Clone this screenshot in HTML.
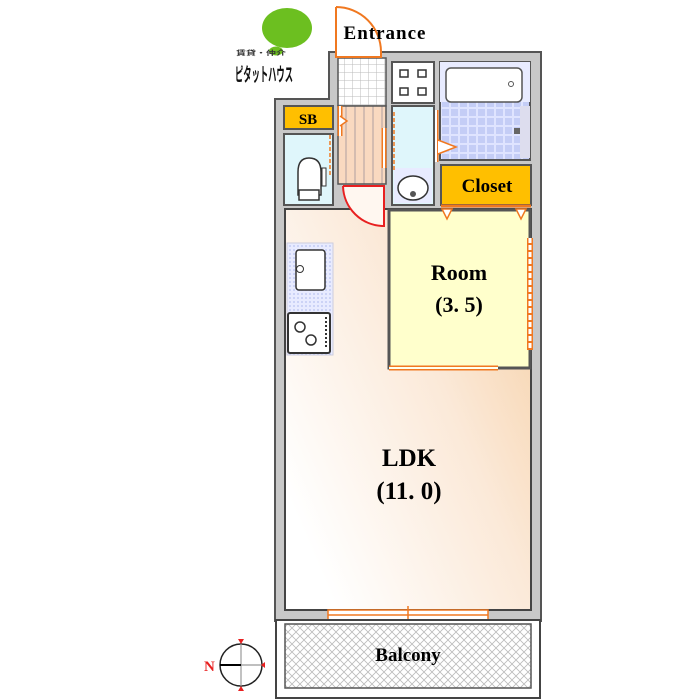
<!DOCTYPE html>
<html><head><meta charset="utf-8"><style>
html,body{margin:0;padding:0;background:#fff;width:700px;height:700px;overflow:hidden}
text{font-family:"Liberation Serif",serif;font-weight:bold}
</style></head><body>
<svg width="700" height="700" viewBox="0 0 700 700" xmlns="http://www.w3.org/2000/svg">
<defs>
<linearGradient id="ldk" x1="1" y1="0" x2="0" y2="0.7">
<stop offset="0" stop-color="#f6cfa4"/><stop offset="0.45" stop-color="#fbe9d8"/><stop offset="1" stop-color="#ffffff"/>
</linearGradient>
<pattern id="tile" width="8" height="8" patternUnits="userSpaceOnUse"><rect width="8" height="8" fill="#fff"/><path d="M0 0H8M0 0V8" stroke="#bbb" stroke-width="1"/></pattern>
<pattern id="btile" width="9" height="9" patternUnits="userSpaceOnUse"><rect width="9" height="9" fill="#dfe4ff"/><rect x="1" y="1" width="7" height="7" fill="#c4cdf6"/></pattern>
<pattern id="dots" width="4" height="4" patternUnits="userSpaceOnUse"><rect width="4" height="4" fill="#e8ebff"/><circle cx="2" cy="2" r="0.9" fill="#b9c2f0"/></pattern>
<pattern id="stripe" width="9" height="9" patternUnits="userSpaceOnUse"><rect width="9" height="9" fill="#f9d9c0"/><path d="M4 0V9" stroke="#b0a0a0" stroke-width="1"/></pattern>
<pattern id="hatch" width="8" height="8" patternUnits="userSpaceOnUse"><rect width="8" height="8" fill="#fff"/><path d="M0 0L8 8M8 0L0 8" stroke="#bbb" stroke-width="0.8"/></pattern>
</defs>

<!-- logo -->
<ellipse cx="287" cy="28" rx="25" ry="20" fill="#6cbf20"/>
<ellipse cx="276" cy="51" rx="7" ry="4.5" fill="#6cbf20"/>
<text x="236" y="55" font-size="6.5" fill="#333" textLength="50" lengthAdjust="spacingAndGlyphs" style="font-family:'Liberation Sans','Noto Sans CJK JP',sans-serif">賃貸・仲介</text>
<text x="235" y="81" font-size="19" fill="#111" textLength="58" lengthAdjust="spacingAndGlyphs" style="font-family:'Liberation Sans','Noto Sans CJK JP',sans-serif">ピタットハウス</text>

<!-- outer wall -->
<path d="M275 99H329V52H541V621H275Z" fill="#c8c8c8" stroke="#555" stroke-width="2"/>
<!-- LDK -->
<rect x="285" y="209" width="246" height="401" fill="url(#ldk)" stroke="#444" stroke-width="2"/>
<!-- room -->
<rect x="389" y="210" width="141" height="158" fill="#ffffcc" stroke="#555" stroke-width="3"/>
<path d="M530 238V350" stroke="#f07820" stroke-width="6"/>
<path d="M530 238V350" stroke="#fff" stroke-width="3" stroke-dasharray="5 2"/>
<path d="M389 368H498" stroke="#f07820" stroke-width="5"/>
<path d="M389 368H498" stroke="#ffe" stroke-width="2"/>
<text x="459" y="280" font-size="22" text-anchor="middle">Room</text>
<text x="459" y="312" font-size="22" text-anchor="middle">(3. 5)</text>

<!-- closet -->
<rect x="441" y="165" width="90" height="40" fill="#ffbf00" stroke="#555" stroke-width="2"/>
<path d="M441 206H531" stroke="#f07820" stroke-width="3"/>
<path d="M442 209l5 10l5-10z M516 209l5 10l5-10z" fill="#fff" stroke="#f07820" stroke-width="1.5"/>
<text x="487" y="192" font-size="19" text-anchor="middle">Closet</text>

<!-- bath -->
<rect x="440" y="62" width="90" height="98" fill="url(#btile)" stroke="#555" stroke-width="2"/>
<rect x="440" y="62" width="90" height="40" fill="#e8ebff"/>
<rect x="446" y="68" width="76" height="34" rx="5" fill="#fff" stroke="#555" stroke-width="1.5"/>
<circle cx="511" cy="84" r="2.5" fill="none" stroke="#555"/>
<rect x="520" y="106" width="10" height="52" fill="#dde"/>
<rect x="514" y="128" width="6" height="6" fill="#666"/>
<path d="M436 110V162" stroke="#f07820" stroke-width="5"/>
<path d="M436 110V162" stroke="#fff" stroke-width="2"/>
<path d="M438 140l18 7l-18 7" fill="#fff" stroke="#f07820" stroke-width="1.5"/>

<!-- stove unit + washroom -->
<rect x="392" y="62" width="42" height="41" fill="#fff" stroke="#555" stroke-width="2"/>
<path d="M400 70h8v7h-8z M418 70h8v7h-8z M400 88h8v7h-8z M418 88h8v7h-8z" fill="none" stroke="#333" stroke-width="1.5"/>
<rect x="392" y="106" width="42" height="99" fill="#dff6fb" stroke="#555" stroke-width="2"/>
<rect x="394" y="168" width="38" height="35" fill="#e8ebff"/>
<ellipse cx="413" cy="188" rx="15" ry="12" fill="#fff" stroke="#333" stroke-width="1.5"/>
<circle cx="413" cy="194" r="3" fill="#555"/>
<path d="M394 112V170" stroke="#f07820" stroke-width="1.5" stroke-dasharray="4 2"/>

<!-- entrance -->
<rect x="338" y="58" width="48" height="48" fill="url(#tile)" stroke="#555" stroke-width="1.5"/>
<rect x="338" y="106" width="48" height="78" fill="url(#stripe)" stroke="#555" stroke-width="1.5"/>
<path d="M336 7V57H381V52A45 45 0 0 0 336 7" fill="#fff" stroke="#f07820" stroke-width="2"/>
<path d="M384 128V168" stroke="#f07820" stroke-width="5"/>
<path d="M384 128V168" stroke="#fff" stroke-width="2"/>
<path d="M340 106V136" stroke="#f07820" stroke-width="5"/>
<path d="M340 106V136" stroke="#fff" stroke-width="2"/>
<path d="M340 116l7 5l-7 5" fill="#fff" stroke="#f07820" stroke-width="1.5"/>
<!-- red door -->
<path d="M343 186H384V226A41 41 0 0 1 343 186" fill="#fff7f0" stroke="#e82020" stroke-width="2"/>

<!-- SB + toilet -->
<rect x="284" y="106" width="49" height="23" fill="#ffbf00" stroke="#555" stroke-width="2"/>
<text x="308" y="124" font-size="15" text-anchor="middle">SB</text>
<rect x="284" y="134" width="49" height="71" fill="#dff6fb" stroke="#555" stroke-width="2"/>
<path d="M330 135V175" stroke="#f07820" stroke-width="1.5" stroke-dasharray="4 2"/>
<path d="M298 172Q298 158 309 158Q321 158 321 172V195H298Z" fill="#fff" stroke="#333" stroke-width="1.5"/>
<rect x="299" y="190" width="20" height="10" fill="#fff" stroke="#333" stroke-width="1.5"/>
<rect x="322" y="168" width="4" height="18" fill="#fff" stroke="#333"/>

<!-- kitchen counter -->
<rect x="287" y="243" width="46" height="112" fill="url(#dots)" stroke="#ccd" stroke-width="1"/>
<rect x="296" y="250" width="29" height="40" rx="3" fill="#fff" stroke="#333" stroke-width="1.5"/>
<circle cx="300" cy="269" r="3.5" fill="#fff" stroke="#333"/>
<rect x="288" y="313" width="42" height="40" rx="2" fill="#fff" stroke="#333" stroke-width="2"/>
<circle cx="300" cy="327" r="5" fill="none" stroke="#333" stroke-width="1.5"/>
<circle cx="311" cy="340" r="5" fill="none" stroke="#333" stroke-width="1.5"/>
<path d="M326 317V349" stroke="#333" stroke-width="2" stroke-dasharray="2 2"/>

<!-- LDK label -->
<text x="409" y="466" font-size="25" text-anchor="middle">LDK</text>
<text x="409" y="499" font-size="25" text-anchor="middle">(11. 0)</text>

<!-- balcony window -->
<rect x="328" y="610" width="160" height="10" fill="#fff" stroke="#f07820" stroke-width="1.5"/>
<path d="M328 615H488M408 606V625" stroke="#f07820" stroke-width="1.5"/>
<!-- balcony -->
<rect x="276" y="620" width="264" height="78" fill="#fff" stroke="#444" stroke-width="2"/>
<rect x="285" y="624" width="246" height="64" fill="url(#hatch)" stroke="#555" stroke-width="1.5"/>
<text x="408" y="661" font-size="19" text-anchor="middle">Balcony</text>

<!-- compass -->
<circle cx="241" cy="665" r="21" fill="#fff" stroke="#222" stroke-width="1.5"/>
<path d="M241 644V686M220 665H262" stroke="#999" stroke-width="1.2"/>
<path d="M220 665H241" stroke="#000" stroke-width="2"/>
<path d="M238 639h6l-3 5z M238 691h6l-3-5z M265 662v6l-4-3z" fill="#e82020"/>
<text x="204" y="671" font-size="15" fill="#e82020">N</text>

<text x="385" y="39" font-size="19" text-anchor="middle" letter-spacing="1">Entrance</text>
</svg>
</body></html>
